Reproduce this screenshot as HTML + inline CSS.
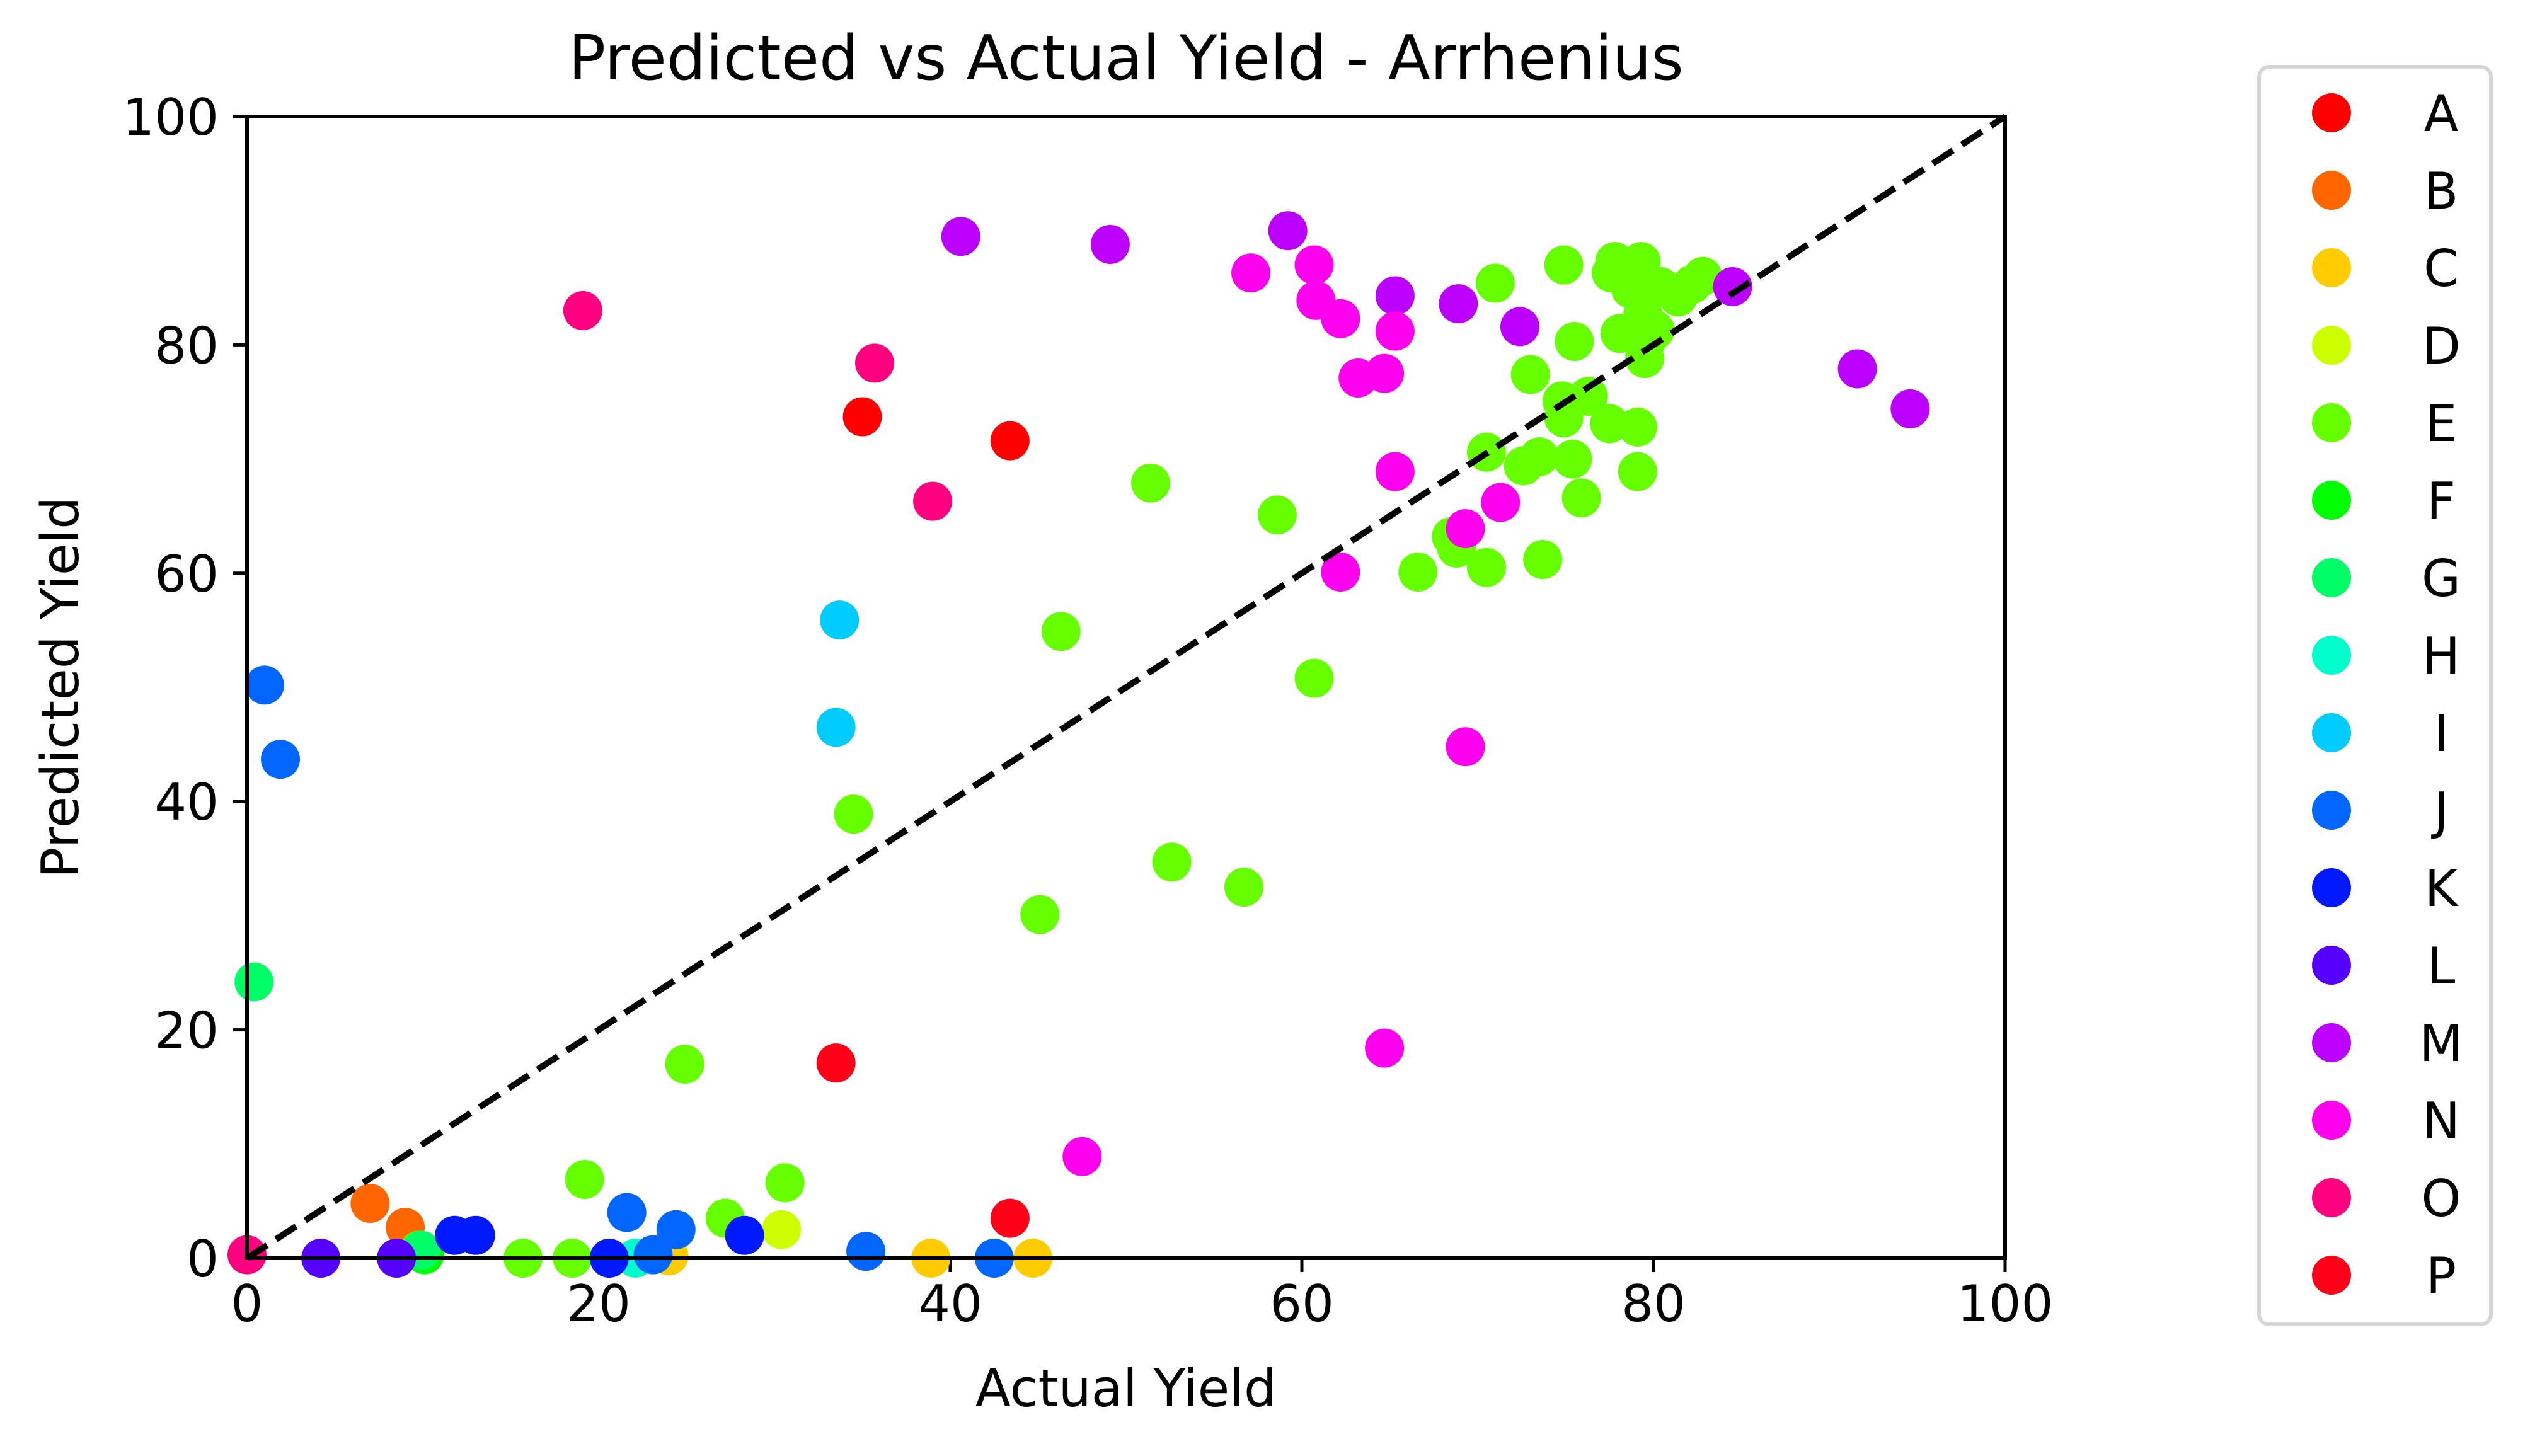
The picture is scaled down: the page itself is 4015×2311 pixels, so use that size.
<!DOCTYPE html>
<html><head><meta charset="utf-8"><style>html,body{margin:0;padding:0;background:#fff}svg{display:block}</style></head>
<body>
<svg id="chart" width="4015" height="2311" viewBox="0 0 4015 2311" xmlns="http://www.w3.org/2000/svg" font-family="DejaVu Sans, Liberation Sans, sans-serif">
<rect width="4015" height="2311" fill="#fff"/>
<text x="1787" y="126" font-size="98" text-anchor="middle">Predicted vs Actual Yield - Arrhenius</text>
<text x="1787" y="2232" font-size="82" text-anchor="middle">Actual Yield</text>
<text transform="translate(124,1091) rotate(-90)" font-size="82" text-anchor="middle">Predicted Yield</text>
<g id="ticks"></g>
<g id="marks"></g>
<line id="diag" stroke="#000" stroke-width="10" stroke-dasharray="38,17"/>
<rect x="392" y="185" width="2790" height="1812" fill="none" stroke="#000" stroke-width="6"/>
<rect x="3585" y="106" width="368" height="1996" rx="16" fill="#fff" stroke="#d6d6d6" stroke-width="6"/>
<g id="legend"></g>
</svg>
<script>
const seriesNames = ["A","B","C","D","E","F","G","H","I","J","K","L","M","N","O","P"];
const seriesColors = ["#ff0000","#ff6600","#ffcc00","#ccff00","#66ff00","#00ff00","#00ff66","#00ffcc","#00ccff","#0066ff","#0019ff","#5500ff","#bb00ff","#ff00ee","#ff0080","#ff0018"];
const xTicks = [0,20,40,60,80,100];
const yTicks = [0,20,40,60,80,100];
const xA = [35.0,43.4];
const yA = [73.7,71.6];
const xB = [7.0,9.0];
const yB = [4.8,2.7];
const xC = [38.9,44.7,24.0];
const yC = [0,0,0.2];
const xD = [30.4];
const yD = [2.5];
const xE = [24.9,19.2,30.6,27.2,15.7,18.5,9.8,34.5,45.1,52.6,56.7,46.3,60.7,51.4,58.6,66.6,70.5,68.8,68.5,73.7,75.9,72.6,73.5,75.4,79.1,79.1,77.5,70.5,74.9,74.8,76.3,73.0,75.5,79.5,80.1,78.1,71.0,74.9,77.8,79.3,77.6,78.7,80.4,82.2,82.8,81.4,79.4,79.6];
const yE = [17.0,6.9,6.6,3.5,0,0,0.7,38.9,30.1,34.7,32.5,54.9,50.8,67.9,65.1,60.1,60.5,62.2,63.2,61.2,66.6,69.4,70.2,70.0,68.9,72.8,73.1,70.6,73.6,75.1,75.5,77.4,80.3,78.8,81.3,81.0,85.4,87.0,87.3,87.3,86.3,84.9,85.1,85.3,86.0,84.2,82.7,80.3];
const xF = [10.1];
const yF = [0.3];
const xG = [0.4,9.9];
const yG = [24.2,0.7];
const xH = [22.1];
const yH = [0];
const xI = [33.7,33.5];
const yI = [55.9,46.5];
const xJ = [1.0,1.9,21.6,24.4,23.1,35.2,42.5];
const yJ = [50.2,43.7,4.0,2.5,0.3,0.6,0];
const xK = [11.8,13.0,28.3,20.6];
const yK = [2.0,2.0,2.0,0];
const xL = [4.2,8.5];
const yL = [0,0];
const xM = [40.6,49.1,59.2,65.3,68.9,72.4,84.5,91.6,94.6];
const yM = [89.5,88.8,90.0,84.3,83.6,81.6,85.1,77.9,74.4];
const xN = [57.1,60.7,60.8,62.2,65.3,63.2,64.7,65.3,62.2,69.3,71.3,69.3,64.7,47.5];
const yN = [86.3,87.0,83.9,82.3,81.2,77.1,77.5,68.9,60.1,63.9,66.2,44.8,18.4,8.9];
const xO = [19.1,35.7,39.0,0];
const yO = [83.0,78.4,66.3,0.3];
const xP = [33.5,43.4];
const yP = [17.1,3.5];

const NS = "http://www.w3.org/2000/svg";
const X0 = 392, X1 = 3182, Y0 = 1997, Y1 = 185;
function sx(v){ return X0 + (v/100)*(X1-X0); }
function sy(v){ return Y0 - (v/100)*(Y0-Y1); }
function mk(tag, attrs){ const e=document.createElementNS(NS,tag); for(const k in attrs) e.setAttribute(k, attrs[k]); return e; }

const ticks = document.getElementById('ticks');
xTicks.forEach(t=>{
  const l = mk('line',{x1:sx(t),x2:sx(t),y1:Y0,y2:Y0+22,stroke:'#000','stroke-width':5});
  
  
  ticks.appendChild(l);
  const tx = mk('text',{x:sx(t),y:Y0+100,'font-size':80,'text-anchor':'middle'});
  tx.textContent = t;
  
  
  ticks.appendChild(tx);
});
yTicks.forEach(t=>{
  const l = mk('line',{x1:X0-22,x2:X0,y1:sy(t),y2:sy(t),stroke:'#000','stroke-width':5});
  
  
  ticks.appendChild(l);
  const tx = mk('text',{x:X0-45,y:sy(t)+29,'font-size':80,'text-anchor':'end'});
  tx.textContent = t;
  
  
  ticks.appendChild(tx);
});

const xs = [xA,xB,xC,xD,xE,xF,xG,xH,xI,xJ,xK,xL,xM,xN,xO,xP];
const ys = [yA,yB,yC,yD,yE,yF,yG,yH,yI,yJ,yK,yL,yM,yN,yO,yP];
const marks = document.getElementById('marks');
xs.forEach((arr,si)=>{
  const g = mk('g',{});
  
  
  arr.forEach((xv,i)=>{
    const c = mk('circle',{cx:sx(xv),cy:sy(ys[si][i]),r:31,fill:seriesColors[si]});
    
    
    g.appendChild(c);
  });
  marks.appendChild(g);
});

const d = document.getElementById('diag');
d.setAttribute('x1', sx(0)); d.setAttribute('y1', sy(0));
d.setAttribute('x2', sx(100)); d.setAttribute('y2', sy(100));

const leg = document.getElementById('legend');
seriesNames.forEach((n,i)=>{
  const y = 179 + i*123;
  const g = mk('g',{});
  
  
  g.appendChild(mk('circle',{cx:3700,cy:y,r:31,fill:seriesColors[i]}));
  const t = mk('text',{x:3874,y:y+29,'font-size':80,'text-anchor':'middle'});
  t.textContent = n;
  g.appendChild(t);
  leg.appendChild(g);
});
</script>
</body></html>
